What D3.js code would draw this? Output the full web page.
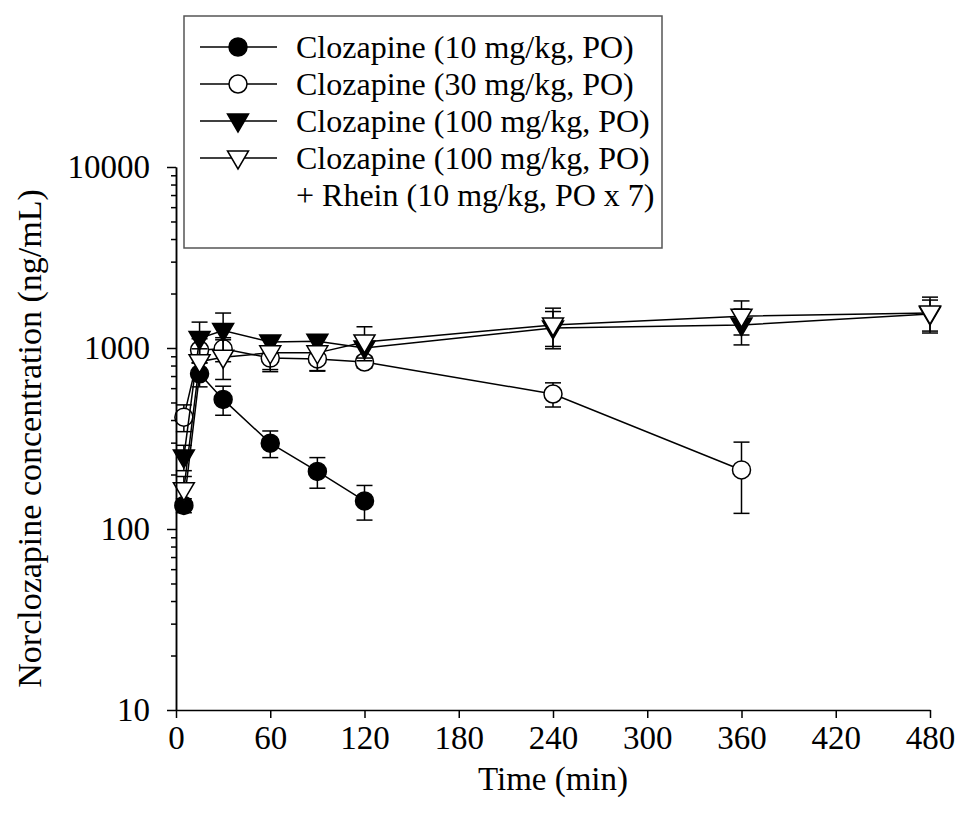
<!DOCTYPE html>
<html>
<head>
<meta charset="utf-8">
<script src="https://cdn.jsdelivr.net/npm/d3@7"></script>
<style>
    body { margin: 0; background: #fff; }
    svg { display: block; }
    text { font-family: "Liberation Serif", "Times New Roman", serif; fill: #000; }
</style>
</head>
<body>
<div id="container"></div>
<script>
// Data
const timesShort = [5, 15, 30, 60, 90, 120];
const times30 = [5, 15, 30, 60, 90, 120, 240, 360];
const timesLong = [5, 15, 30, 60, 90, 120, 240, 360, 480];

const conc10 = [135, 720, 520, 298, 208, 143];
const sd10 = [12, 110, 95, 50, 40, 31];

const conc30 = [415, 975, 990, 880, 870, 837, 557, 212];
const sd30 = [70, 150, 150, 120, 120, 60, 85, 90];

const conc100 = [250, 1130, 1250, 1080, 1090, 1000, 1290, 1340, 1540];
const sd100 = [40, 260, 310, 80, 85, 120, 300, 300, 300];

const conc100R = [165, 840, 890, 940, 940, 1080, 1340, 1500, 1560];
const sd100R = [30, 150, 220, 200, 195, 230, 320, 320, 350];

const legendLabels = [
    ["Clozapine (10 mg/kg, PO)"],
    ["Clozapine (30 mg/kg, PO)"],
    ["Clozapine (100 mg/kg, PO)"],
    ["Clozapine (100 mg/kg, PO)", "+ Rhein (10 mg/kg, PO x 7)"],
];

const xTicks = [0, 60, 120, 180, 240, 300, 360, 420, 480];
const yTicks = [10, 100, 1000, 10000];
const xTitle = "Time (min)";
const yTitle = "Norclozapine concentration (ng/mL)";

// ---------------------------------------------------------------------
const series = [
    { t: timesShort, v: conc10, sd: sd10, shape: "circle", fill: "#000" },
    { t: times30, v: conc30, sd: sd30, shape: "circle", fill: "#fff" },
    { t: timesLong, v: conc100, sd: sd100, shape: "tri", fill: "#000" },
    { t: timesLong, v: conc100R, sd: sd100R, shape: "tri", fill: "#fff" },
];

const width = 959, height = 830;
const fontSize = 33;
const legendFont = 32;

const x = d3.scaleLinear().domain([0, 480]).range([176, 930]);
const y = d3.scaleLog().domain([10, 10000]).range([710, 167]);

const svg = d3.select("#container").append("svg")
    .attr("width", width)
    .attr("height", height);

// markers
const triPath = "M-10.5,-7L10.5,-7L0,11Z";
function drawMarker(g, shape, fill) {
    if (shape === "circle") {
        g.append("circle").attr("r", 9);
    } else {
        g.append("path").attr("d", triPath);
    }
    g.selectAll("circle, path")
        .attr("fill", fill)
        .attr("stroke", "#000")
        .attr("stroke-width", 1.5);
}

const line = d3.line()
    .x(d => x(d.t))
    .y(d => y(d.v));

series.forEach(s => {
    const pts = s.t.map((t, i) => ({ t: t, v: s.v[i], sd: s.sd[i] }));
    const g = svg.append("g");

    g.append("path")
        .datum(pts)
        .attr("fill", "none")
        .attr("stroke", "#000")
        .attr("stroke-width", 1.5)
        .attr("d", line);

    // error bars
    const eb = g.append("g").attr("stroke", "#000").attr("stroke-width", 1.5);
    pts.forEach(p => {
        const hi = y(p.v + p.sd), lo = y(Math.max(p.v - p.sd, 10));
        const cx = x(p.t);
        eb.append("line").attr("x1", cx).attr("x2", cx).attr("y1", hi).attr("y2", lo);
        eb.append("line").attr("x1", cx - 8).attr("x2", cx + 8).attr("y1", hi).attr("y2", hi);
        eb.append("line").attr("x1", cx - 8).attr("x2", cx + 8).attr("y1", lo).attr("y2", lo);
    });

    pts.forEach(p => {
        const m = g.append("g").attr("transform", `translate(${x(p.t)},${y(p.v)})`);
        drawMarker(m, s.shape, s.fill);
    });
});

// axes
svg.append("g")
    .attr("transform", `translate(0,${y(10)})`)
    .call(d3.axisBottom(x).tickValues(xTicks).tickSize(8).tickSizeOuter(0).tickPadding(8));

const minors = [];
[10, 100, 1000].forEach(dec => {
    for (let k = 2; k <= 9; k++) minors.push(dec * k);
});
svg.append("g")
    .attr("transform", `translate(${x(0)},0)`)
    .call(d3.axisLeft(y).tickValues(minors).tickSize(5).tickSizeOuter(0).tickFormat(""));

svg.append("g")
    .attr("transform", `translate(${x(0)},0)`)
    .call(d3.axisLeft(y).tickValues(yTicks).tickSize(9).tickSizeOuter(0)
        .tickPadding(17).tickFormat(d3.format("d")));

svg.selectAll(".domain, .tick line").attr("stroke", "#000").attr("stroke-width", 1.5);
svg.selectAll(".tick text")
    .style("font-family", "'Liberation Serif', serif")
    .attr("font-size", fontSize)
    .attr("fill", "#000");

svg.append("text")
    .attr("x", x(240))
    .attr("y", 790)
    .attr("text-anchor", "middle")
    .attr("font-size", fontSize)
    .text(xTitle);

svg.append("text")
    .attr("transform", `translate(41,${(y(10) + y(10000)) / 2}) rotate(-90)`)
    .attr("text-anchor", "middle")
    .attr("font-size", 34)
    .text(yTitle);

// legend
const legend = svg.append("g");
legend.append("rect")
    .attr("x", 184).attr("y", 16)
    .attr("width", 478).attr("height", 232)
    .attr("fill", "#fff")
    .attr("stroke", "#555")
    .attr("stroke-width", 1.5);

const rowGap = 37;
series.forEach((s, i) => {
    const ry = 47 + i * rowGap;
    legend.append("line")
        .attr("x1", 200).attr("x2", 277)
        .attr("y1", ry).attr("y2", ry)
        .attr("stroke", "#000").attr("stroke-width", 1.5);
    const m = legend.append("g").attr("transform", `translate(238,${ry})`);
    drawMarker(m, s.shape, s.fill);
    legendLabels[i].forEach((lab, j) => {
        legend.append("text")
            .attr("x", 296)
            .attr("y", ry + j * rowGap)
            .attr("dy", "0.35em")
            .attr("font-size", legendFont)
            .text(lab);
    });
});
</script>
</body>
</html>
